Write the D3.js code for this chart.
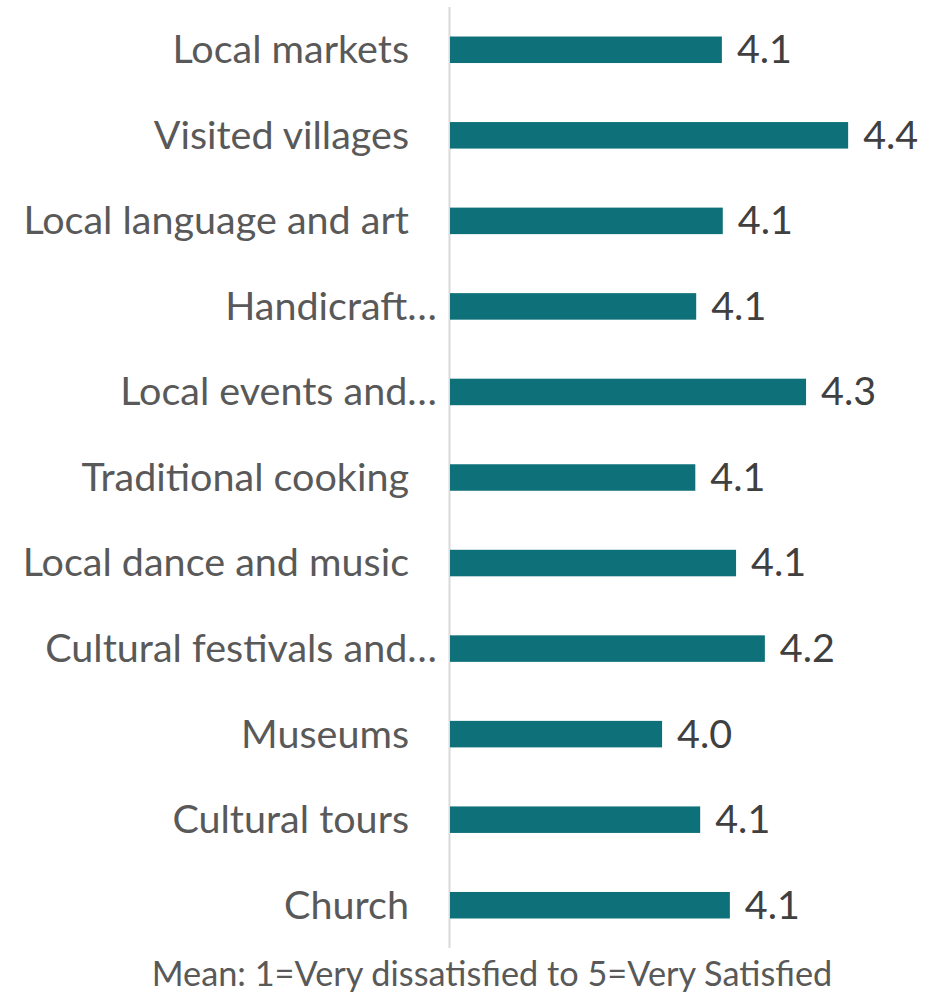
<!DOCTYPE html>
<html>
<head>
<meta charset="utf-8">
<script src="https://cdn.jsdelivr.net/npm/d3@7"></script>
<style>
  html, body { margin: 0; padding: 0; background: #fff; }
  svg { display: block; }
  text { font-family: Lato, "Open Sans", sans-serif; }
</style>
</head>
<body>
<svg id="chart" width="949" height="1001"></svg>
<script>
// Mean satisfaction per cultural activity (top to bottom)
const categories = [
  "Local markets",
  "Visited villages",
  "Local language and art",
  "Handicraft…",
  "Local events and…",
  "Traditional cooking",
  "Local dance and music",
  "Cultural festivals and…",
  "Museums",
  "Cultural tours",
  "Church"
];
const meanScores = [4.116, 4.401, 4.118, 4.058, 4.306, 4.056, 4.148, 4.213, 3.981, 4.067, 4.134];
const axisDomain = [3.5, 4.5];
const caption = "Mean: 1=Very dissatisfied to 5=Very Satisfied";

const svg = d3.select("#chart");

const x = d3.scaleLinear().domain(axisDomain).range([449, 892]);
const y = d3.scaleBand().domain(categories).range([7, 948]).paddingInner(0.69).paddingOuter(0.345);

const data = categories.map((c, i) => ({ cat: c, val: meanScores[i] }));

// category axis line
svg.append("line")
  .attr("x1", 449.5).attr("x2", 449.5)
  .attr("y1", 7).attr("y2", 948)
  .attr("stroke", "#d9d9d9").attr("stroke-width", 2);

// bars
svg.append("g").selectAll("rect").data(data).join("rect")
  .attr("x", x(axisDomain[0]) + 1)
  .attr("y", d => y(d.cat))
  .attr("width", d => x(d.val) - x(axisDomain[0]) - 1)
  .attr("height", y.bandwidth())
  .attr("fill", "#0e717a");

// category labels (truncated names sit closer to the axis)
svg.append("g").selectAll("text").data(data).join("text")
  .attr("x", d => d.cat.endsWith("…") ? 437 : 409)
  .attr("y", d => y(d.cat) + y.bandwidth() / 2)
  .attr("dy", "0.34em")
  .attr("text-anchor", "end")
  .attr("font-size", 39.5)
  .attr("fill", "#595959")
  .text(d => d.cat);

// value labels
svg.append("g").selectAll("text").data(data).join("text")
  .attr("x", d => x(d.val) + 15)
  .attr("y", d => y(d.cat) + y.bandwidth() / 2)
  .attr("dy", "0.34em")
  .attr("font-size", 39.5)
  .attr("fill", "#404040")
  .text(d => d3.format(".1f")(d.val));

// caption
svg.append("text")
  .attr("x", 492).attr("y", 986)
  .attr("text-anchor", "middle")
  .attr("font-size", 34.3)
  .attr("fill", "#595959")
  .text(caption);
</script>
</body>
</html>
